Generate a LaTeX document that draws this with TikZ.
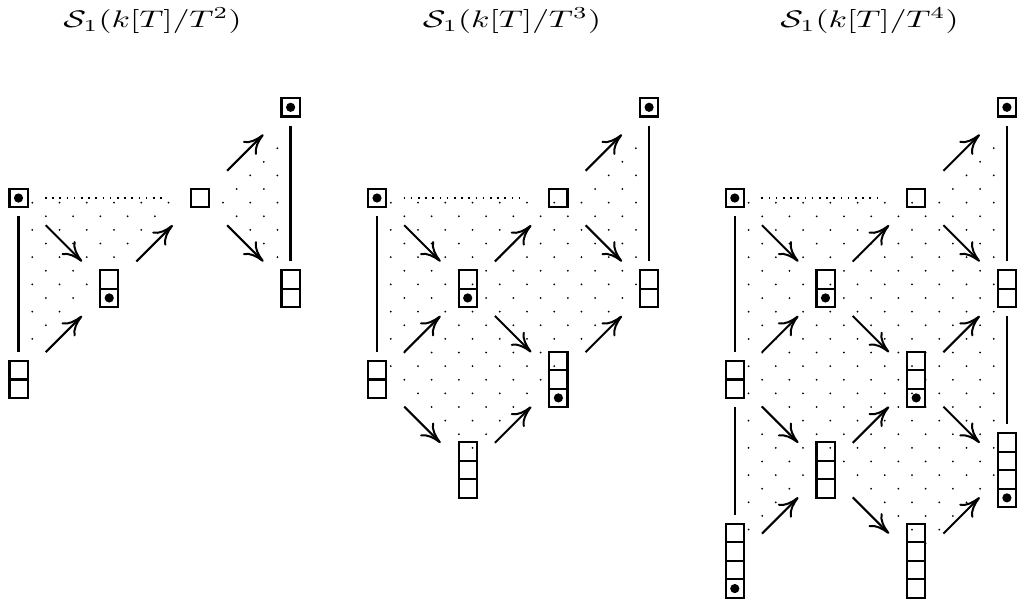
\documentclass[tikz,border=0pt]{standalone}
\usepackage{graphicx}
\usetikzlibrary{calc,arrows.meta}
\tikzset{
  cellbox/.style={draw, line width=2.2pt, minimum width=18.2pt, inner sep=0pt, outer sep=0pt},
  sepline/.style={line width=2.2pt},
  arr/.style={line width=2pt, -{To[length=20pt,width=19pt]}},
  vline/.style={line width=2.3pt, shorten <=9pt, shorten >=9pt},
  hdots/.style={line width=1.8pt, dash pattern=on 1.6pt off 5.6pt, shorten <=26.5pt, shorten >=33pt},
  titlenode/.style={anchor=base, inner sep=0pt},
}
% grid coordinates: prefix, X0
\newcommand\mkgrid[2]{%
  \foreach \c in {0,...,3}{\foreach \r in {0,...,5}{%
    \coordinate (#1c\c r\r) at ({#2+90.7*\c},{107.3+90.7*\r});
  }}%
}
% column of cells: name, coordinate, ncells, dot(0/1)
\newcommand\ycol[4]{%
  \node[cellbox, minimum height=#3*18.5pt] (#1) at (#2) {};
  \ifnum#3>1
    \foreach \k in {2,...,#3}{%
      \draw[sepline] ($(#1.north west)+(0,{(\k-1)*18.5})$) -- ($(#1.north east)+(0,{(\k-1)*18.5})$);
    }%
  \fi
  \ifnum#4=1 \fill ($(#1.south)+(0,-9.25)$) circle[radius=4.6pt];\fi
}
% dot lattice: X0, Y0, region path
\newcommand\lattice[3]{%
  \begin{scope}
    \clip #3;
    \foreach \i in {-1,...,21}{%
      \foreach \j in {-8,...,28}{%
        \ifodd\numexpr\i+\j\relax\else
          \fill ({#1+13.8+13.62*\i},{#2+4.7+13.62*\j}) circle[radius=1pt];
        \fi
      }%
    }%
  \end{scope}
  \draw[white, line width=4.2pt, line join=round] #3;
}
\newcommand\arrw[2]{\draw[arr] ($(#1)!0.3!(#2)$) -- ($(#1)!0.7!(#2)$);}
\newcommand\ttl[1]{\scalebox{3.34}[2.4]{$\mathcal{S}_1(k[T]/T^{#1})$}}
\begin{document}
\begin{tikzpicture}[x=1pt,y=-1pt]
\useasboundingbox (0,0) rectangle (1018,603);
\mkgrid{A}{18.5}
\mkgrid{B}{377}
\mkgrid{C}{734.8}

% titles
\node[titlenode] (t1) at (152.5,27.5) {\ttl{2}};
\node[titlenode] (t2) at (512,27.5) {\ttl{3}};
\node[titlenode] (t3) at (869.5,27.5) {\ttl{4}};

% dotted regions
\lattice{18.5}{198}{(Ac0r1) -- (Ac2r1) -- (Ac0r3) -- cycle (Ac2r1) -- (Ac3r0) -- (Ac3r2) -- cycle}
\lattice{377}{198}{(Bc0r1) -- (Bc2r1) -- (Bc3r0) -- (Bc3r2) -- (Bc2r3) -- (Bc1r4) -- (Bc0r3) -- cycle}
\lattice{734.8}{198}{(Cc0r1) -- (Cc2r1) -- (Cc3r0) -- (Cc3r4) -- (Cc2r5) -- (Cc1r4) -- (Cc0r5) -- cycle}

% ---------- diagram 1 ----------
\ycol{nA01}{Ac0r1}{1}{1}
\ycol{nA12}{Ac1r2}{2}{1}
\ycol{nA03}{Ac0r3}{2}{0}
\ycol{nA21}{Ac2r1}{1}{0}
\ycol{nA30}{Ac3r0}{1}{1}
\ycol{nA32}{Ac3r2}{2}{0}
\draw[hdots] (nA01.center) -- (nA21.center);
\draw[vline] (nA01.south) -- (nA03.north);
\draw[vline] (nA30.south) -- (nA32.north);
\arrw{nA01}{nA12}
\arrw{nA03}{nA12}
\arrw{nA12}{nA21}
\arrw{nA21}{nA30}
\arrw{nA21}{nA32}

% ---------- diagram 2 ----------
\ycol{nB01}{Bc0r1}{1}{1}
\ycol{nB12}{Bc1r2}{2}{1}
\ycol{nB03}{Bc0r3}{2}{0}
\ycol{nB21}{Bc2r1}{1}{0}
\ycol{nB30}{Bc3r0}{1}{1}
\ycol{nB32}{Bc3r2}{2}{0}
\ycol{nB23}{Bc2r3}{3}{1}
\ycol{nB14}{Bc1r4}{3}{0}
\draw[hdots] (nB01.center) -- (nB21.center);
\draw[vline] (nB01.south) -- (nB03.north);
\draw[vline] (nB30.south) -- (nB32.north);
\arrw{nB01}{nB12}
\arrw{nB03}{nB12}
\arrw{nB12}{nB21}
\arrw{nB21}{nB30}
\arrw{nB21}{nB32}
\arrw{nB12}{nB23}
\arrw{nB23}{nB32}
\arrw{nB03}{nB14}
\arrw{nB14}{nB23}

% ---------- diagram 3 ----------
\ycol{nC01}{Cc0r1}{1}{1}
\ycol{nC12}{Cc1r2}{2}{1}
\ycol{nC03}{Cc0r3}{2}{0}
\ycol{nC21}{Cc2r1}{1}{0}
\ycol{nC30}{Cc3r0}{1}{1}
\ycol{nC32}{Cc3r2}{2}{0}
\ycol{nC23}{Cc2r3}{3}{1}
\ycol{nC14}{Cc1r4}{3}{0}
\ycol{nC05}{Cc0r5}{4}{1}
\ycol{nC25}{Cc2r5}{4}{0}
\ycol{nC34}{Cc3r4}{4}{1}
\draw[hdots] (nC01.center) -- (nC21.center);
\draw[vline] (nC01.south) -- (nC03.north);
\draw[vline] (nC03.south) -- (nC05.north);
\draw[vline] (nC30.south) -- (nC32.north);
\draw[vline] (nC32.south) -- (nC34.north);
\arrw{nC01}{nC12}
\arrw{nC03}{nC12}
\arrw{nC12}{nC21}
\arrw{nC21}{nC30}
\arrw{nC21}{nC32}
\arrw{nC12}{nC23}
\arrw{nC23}{nC32}
\arrw{nC03}{nC14}
\arrw{nC14}{nC23}
\arrw{nC23}{nC34}
\arrw{nC14}{nC25}
\arrw{nC25}{nC34}
\arrw{nC05}{nC14}
\end{tikzpicture}
\end{document}
